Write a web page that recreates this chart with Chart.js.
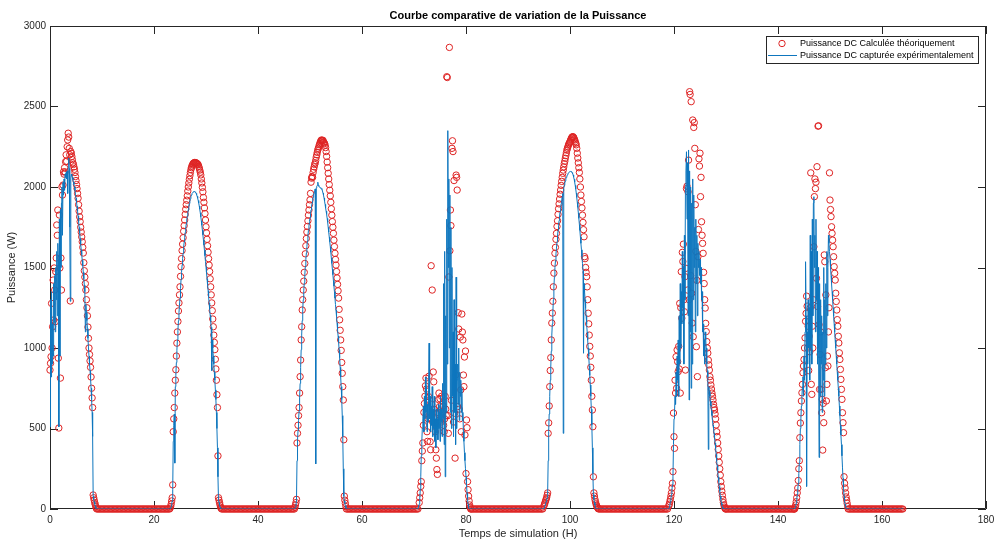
<!DOCTYPE html>
<html lang="fr">
<head>
<meta charset="UTF-8">
<title>Courbe comparative de variation de la Puissance</title>
<script src="https://cdn.jsdelivr.net/npm/chart.js"></script>
<style>
  html, body { margin: 0; padding: 0; background: #fff; }
  canvas { display: block; }
</style>
</head>
<body>
<canvas id="graphePuissance" width="995" height="542"></canvas>
<script>
// Temps de simulation (H) et puissances (W), jour par jour
const titre = 'Courbe comparative de variation de la Puissance';
const graduationsX = [0, 20, 40, 60, 80, 100, 120, 140, 160, 180];
const graduationsY = [0, 500, 1000, 1500, 2000, 2500, 3000];

// la nuit, les deux puissances sont nulles
const puissanceNuit = [
  0,0,0,0,0,0,0,0,0,0, 0,0,0,0,0,0,0,0,0,0, 0,0,0,0,0,0,0,0,0,0,
  0,0,0,0,0,0,0,0,0,0, 0,0,0,0,0,0,0,0,0,0, 0,0,0,0,0];

// --- Jour 1 ---
const tempsJour1 = [
  0,0.1,0.2,0.3,0.4,0.5,0.6,0.7,0.8,0.9,
  1,1.1,1.2,1.3,1.4,1.5,1.6,1.7,1.8,1.9,
  2,2.1,2.2,2.3,2.4,2.5,2.6,2.7,2.8,2.9,
  3,3.1,3.2,3.3,3.4,3.5,3.6,3.7,3.8,3.9,
  4,4.1,4.2,4.3,4.4,4.5,4.6,4.7,4.8,4.9,
  5,5.1,5.2,5.3,5.4,5.5,5.6,5.7,5.8,5.9,
  6,6.1,6.2,6.3,6.4,6.5,6.6,6.7,6.8,6.9,
  7,7.1,7.2,7.3,7.4,7.5,7.6,7.7,7.8,7.9,
  8,8.1,8.2,8.3,8.4,8.5,8.6,8.7,8.8,8.9,
  9];
const theoJour1 = [
  863,905,946,1277,1000,1132,1422,1174,1497,1360,
  1163,1474,1559,1764,1700,1857,937,503,1826,1497,
  813,1559,1360,2001,1950,2012,2094,2080,2120,2094,
  2157,2200,2160,2250,2292,2334,2310,2240,2200,1292,
  2220,2209,2190,2170,2150,2140,2125,2110,2090,2065,
  2040,2015,1990,1960,1930,1890,1850,1815,1785,1750,
  1720,1690,1660,1625,1590,1530,1480,1440,1400,1360,
  1300,1250,1200,1130,1060,1000,960,920,880,820,
  750,690,630,87,70,55,40,28,15,5,
  0];
const mesJour1 = [
  510,1300,820,1350,900,1150,950,1400,1160,1450,
  1100,1500,1300,1600,1200,1650,1550,510,1800,950,
  1860,1500,1900,2000,1700,2030,1950,2050,1980,2080,
  2060,2090,2050,2100,1960,2120,2180,2116,1750,1290,
  2050,2080,2070,2060,2045,2030,2015,2000,1980,1955,
  1930,1905,1880,1850,1820,1785,1750,1715,1680,1645,
  1610,1580,1545,1510,1470,1430,1390,1350,1100,1270,
  1220,1170,1120,1060,1000,950,900,860,810,750,
  680,600,450,80,60,45,30,18,8,0,
  0];
const tempsNuit1 = [
  9.25,9.5,9.75,10,10.25,10.5,10.75,11,11.25,11.5,11.75,12,12.25,12.5,12.75,13,
  13.25,13.5,13.75,14,14.25,14.5,14.75,15,15.25,15.5,15.75,16,16.25,16.5,16.75,17,
  17.25,17.5,17.75,18,18.25,18.5,18.75,19,19.25,19.5,19.75,20,20.25,20.5,20.75,21,
  21.25,21.5,21.75,22,22.25,22.5,22.75];

// --- Jour 2 ---
const tempsJour2 = [
  23,23.1,23.2,23.3,23.4,23.5,23.6,23.7,23.8,23.9,
  24,24.1,24.2,24.3,24.4,24.5,24.6,24.7,24.8,24.9,
  25,25.1,25.2,25.3,25.4,25.5,25.6,25.7,25.8,25.9,
  26,26.1,26.2,26.3,26.4,26.5,26.6,26.7,26.8,26.9,
  27,27.1,27.2,27.3,27.4,27.5,27.6,27.7,27.8,27.9,
  28,28.1,28.2,28.3,28.4,28.5,28.6,28.7,28.8,28.9,
  29,29.1,29.2,29.3,29.4,29.5,29.6,29.7,29.8,29.9,
  30,30.1,30.2,30.3,30.4,30.5,30.6,30.7,30.8,30.9,
  31,31.1,31.2,31.3,31.4,31.5,31.6,31.7,31.8,31.9,
  32,32.1,32.2,32.3,32.4,32.5,32.6,32.7,32.8,32.9,
  33];
const theoJour2 = [
  0,5,15,30,50,70,150,480,560,630,
  720,800,865,950,1030,1100,1165,1230,1280,1330,
  1380,1445,1505,1555,1605,1645,1685,1725,1760,1795,
  1830,1862,1890,1918,1945,1975,2000,2025,2048,2070,
  2090,2108,2120,2130,2138,2144,2148,2150,2152,2152,
  2150,2150,2148,2145,2142,2138,2128,2118,2105,2092,
  2075,2050,2025,1998,1970,1935,1905,1870,1835,1795,
  1753,1715,1675,1635,1595,1555,1515,1475,1430,1380,
  1330,1280,1232,1180,1132,1080,1035,990,930,870,
  800,710,630,330,70,55,40,25,12,5,
  0];
const mesJour2 = [
  0,0,5,15,30,50,120,420,520,590,
  285,760,830,910,985,1050,1110,1170,1220,1265,
  1310,1370,1425,1470,1515,1555,1590,1625,1658,1688,
  1718,1745,1770,1795,1818,1840,1860,1880,1898,1913,
  1927,1940,1950,1958,1964,1968,1971,1972,1972,1970,
  1966,1960,1952,1942,1930,1916,1900,1882,1862,1840,
  1815,1790,1762,1733,1703,1672,1640,1607,1573,1538,
  1502,1466,1430,1393,1356,1318,1280,1242,1204,1166,
  1128,860,1050,1000,950,900,850,800,740,680,
  600,500,380,200,60,40,25,12,5,0,
  0];
const tempsNuit2 = [
  33.25,33.5,33.75,34,34.25,34.5,34.75,35,35.25,35.5,35.75,36,36.25,36.5,36.75,37,
  37.25,37.5,37.75,38,38.25,38.5,38.75,39,39.25,39.5,39.75,40,40.25,40.5,40.75,41,
  41.25,41.5,41.75,42,42.25,42.5,42.75,43,43.25,43.5,43.75,44,44.25,44.5,44.75,45,
  45.25,45.5,45.75,46,46.25,46.5,46.75];

// --- Jour 3 ---
const tempsJour3 = [
  47,47.1,47.2,47.3,47.4,47.5,47.6,47.7,47.8,47.9,
  48,48.1,48.2,48.3,48.4,48.5,48.6,48.7,48.8,48.9,
  49,49.1,49.2,49.3,49.4,49.5,49.6,49.7,49.8,49.9,
  50,50.1,50.2,50.3,50.4,50.5,50.6,50.7,50.8,50.9,
  51,51.1,51.2,51.3,51.4,51.5,51.6,51.7,51.8,51.9,
  52,52.1,52.2,52.3,52.4,52.5,52.6,52.7,52.8,52.9,
  53,53.1,53.2,53.3,53.4,53.5,53.6,53.7,53.8,53.9,
  54,54.1,54.2,54.3,54.4,54.5,54.6,54.7,54.8,54.9,
  55,55.1,55.2,55.3,55.4,55.5,55.6,55.7,55.8,55.9,
  56,56.1,56.2,56.3,56.4,56.5,56.6,56.7,56.8,56.9,
  57];
const theoJour3 = [
  0,10,25,40,60,410,470,520,580,630,
  720,822,925,1050,1132,1236,1300,1360,1415,1470,
  1525,1585,1635,1680,1720,1755,1790,1825,1857,1890,
  1920,1960,2030,2055,2065,2060,2090,2110,2125,2140,
  2150,2165,2185,2200,2215,2230,2240,2250,2262,2270,
  2280,2288,2292,2290,2285,2290,2280,2275,2270,2260,
  2245,2220,2190,2155,2120,2085,2050,2015,1980,1945,
  1905,1865,1825,1785,1750,1712,1670,1630,1588,1550,
  1515,1475,1435,1395,1355,1310,1240,1175,1110,1050,
  985,910,843,760,677,430,80,55,35,15,
  0];
const mesJour3 = [
  0,0,10,25,50,300,430,490,550,610,
  690,780,880,990,1080,1170,1240,1300,1355,1405,
  1455,1505,1550,1590,1630,1665,1700,1730,1760,1785,
  1810,1835,1858,1880,1900,1918,1935,1950,1965,1978,
  1988,280,1995,2005,2010,2030,2010,2005,2000,1998,
  1995,1992,1990,1985,1975,1962,1948,1932,1912,1892,
  1870,1850,1830,1805,1780,1750,1720,1690,1660,1630,
  1595,1560,1525,1490,1455,1420,1385,1350,1310,1270,
  1235,1195,1155,1115,1075,1035,990,940,880,820,
  760,680,580,450,250,80,50,35,20,8,
  0];
const tempsNuit3 = [
  57.25,57.5,57.75,58,58.25,58.5,58.75,59,59.25,59.5,59.75,60,60.25,60.5,60.75,61,
  61.25,61.5,61.75,62,62.25,62.5,62.75,63,63.25,63.5,63.75,64,64.25,64.5,64.75,65,
  65.25,65.5,65.75,66,66.25,66.5,66.75,67,67.25,67.5,67.75,68,68.25,68.5,68.75,69,
  69.25,69.5,69.75,70,70.25,70.5,70.75];

// --- Jour 4 ---
const tempsJour4 = [
  71,71.1,71.2,71.3,71.4,71.5,71.6,71.7,71.8,71.9,
  72,72.1,72.2,72.3,72.4,72.5,72.6,72.7,72.8,72.9,
  73,73.1,73.2,73.3,73.4,73.5,73.6,73.7,73.8,73.9,
  74,74.1,74.2,74.3,74.4,74.5,74.6,74.7,74.8,74.9,
  75,75.1,75.2,75.3,75.4,75.5,75.6,75.7,75.8,75.9,
  76,76.1,76.2,76.3,76.4,76.5,76.6,76.7,76.8,76.9,
  77,77.1,77.2,77.3,77.4,77.5,77.6,77.7,77.8,77.9,
  78,78.1,78.2,78.3,78.4,78.5,78.6,78.7,78.8,78.9,
  79,79.1,79.2,79.3,79.4,79.5,79.6,79.7,79.8,79.9,
  80,80.1,80.2,80.3,80.4,80.5,80.6,80.7,80.8,80.9,
  81];
const theoJour4 = [
  40,70,100,140,170,300,360,410,520,600,
  655,700,765,813,745,480,420,560,698,825,
  570,418,368,1511,650,1360,540,851,790,620,
  560,480,368,316,245,215,600,680,720,636,
  685,615,540,700,570,600,640,520,480,560,
  700,620,580,2685,2680,580,470,1441,2867,1604,
  1857,1760,675,2240,2287,2220,540,2040,595,316,
  832,2074,2060,1981,636,1219,1118,620,560,1068,
  740,480,1211,1099,1050,832,760,944,460,981,
  220,553,505,170,120,80,50,25,10,0,
  0];
const mesJour4 = [
  30,60,120,200,330,420,500,560,640,480,
  700,560,820,600,760,480,650,540,720,1030,
  560,700,480,640,520,760,450,620,500,700,
  420,560,380,620,470,560,430,650,500,600,
  420,700,540,620,450,780,560,1400,400,1600,
  200,1200,600,1800,900,2350,1500,2050,1000,1950,
  600,1750,500,1500,700,1100,450,1300,600,900,
  400,1440,500,800,900,650,1000,550,850,700,
  800,600,750,550,600,480,420,350,300,250,
  200,150,100,60,30,10,0,0,0,0,
  0];
const tempsNuit4 = [
  81.25,81.5,81.75,82,82.25,82.5,82.75,83,83.25,83.5,83.75,84,84.25,84.5,84.75,85,
  85.25,85.5,85.75,86,86.25,86.5,86.75,87,87.25,87.5,87.75,88,88.25,88.5,88.75,89,
  89.25,89.5,89.75,90,90.25,90.5,90.75,91,91.25,91.5,91.75,92,92.25,92.5,92.75,93,
  93.25,93.5,93.75,94,94.25,94.5,94.75];

// --- Jour 5 ---
const tempsJour5 = [
  95,95.1,95.2,95.3,95.4,95.5,95.6,95.7,95.8,95.9,
  96,96.1,96.2,96.3,96.4,96.5,96.6,96.7,96.8,96.9,
  97,97.1,97.2,97.3,97.4,97.5,97.6,97.7,97.8,97.9,
  98,98.1,98.2,98.3,98.4,98.5,98.6,98.7,98.8,98.9,
  99,99.1,99.2,99.3,99.4,99.5,99.6,99.7,99.8,99.9,
  100,100.1,100.2,100.3,100.4,100.5,100.6,100.7,100.8,100.9,
  101,101.1,101.2,101.3,101.4,101.5,101.6,101.7,101.8,101.9,
  102,102.1,102.2,102.3,102.4,102.5,102.6,102.7,102.8,102.9,
  103,103.1,103.2,103.3,103.4,103.5,103.6,103.7,103.8,103.9,
  104,104.1,104.2,104.3,104.4,104.5,104.6,104.7,104.8,104.9,
  105,105.1,105.2,105.3,105.4,105.5];
const theoJour5 = [
  20,30,40,50,60,70,85,100,470,535,
  640,760,860,940,1050,1155,1217,1290,1380,1465,
  1527,1588,1625,1675,1712,1755,1790,1830,1865,1895,
  1925,1955,1981,2010,2035,2060,2085,2105,2125,2145,
  2160,2178,2195,2212,2229,2240,2250,2260,2268,2275,
  2281,2290,2298,2305,2310,2312,2312,2308,2300,2292,
  2282,2272,2262,2240,2210,2180,2150,2120,2090,2050,
  2000,1950,1910,1870,1825,1780,1735,1691,1567,1555,
  1500,1470,1443,1380,1300,1216,1150,1080,1010,950,
  880,800,700,615,511,200,100,80,60,45,
  32,22,14,8,3,0];
const mesJour5 = [
  5,15,25,35,45,55,70,90,300,480,
  590,700,800,880,980,1080,1150,1220,1300,1380,
  1440,1500,1540,1585,1620,1660,1695,1730,1762,1792,
  1820,1848,1873,1897,1920,1940,1960,470,1995,2010,
  2025,2038,2050,2060,2068,2076,2082,2087,2091,2094,
  2096,2097,2096,2093,2089,2083,2075,2062,2048,2030,
  2010,1988,1963,1935,1905,1873,1840,1805,1768,1730,
  1690,1650,1610,1568,1525,1480,968,1400,1350,1300,
  1250,1200,1150,1100,1050,1000,950,890,830,770,
  700,620,520,380,220,90,60,40,25,10,
  0,0,0,0,0,0];
const tempsNuit5 = [
  105.75,106,106.25,106.5,106.75,107,107.25,107.5,107.75,108,108.25,108.5,108.75,
  109,109.25,109.5,109.75,110,110.25,110.5,110.75,111,111.25,111.5,111.75,112,
  112.25,112.5,112.75,113,113.25,113.5,113.75,114,114.25,114.5,114.75,115,115.25,
  115.5,115.75,116,116.25,116.5,116.75,117,117.25,117.5,117.75,118,118.25,118.5,118.75];

// --- Jour 6 ---
const tempsJour6 = [
  119,119.1,119.2,119.3,119.4,119.5,119.6,119.7,119.8,119.9,
  120,120.1,120.2,120.3,120.4,120.5,120.6,120.7,120.8,120.9,
  121,121.1,121.2,121.3,121.4,121.5,121.6,121.7,121.8,121.9,
  122,122.1,122.2,122.3,122.4,122.5,122.6,122.7,122.8,122.9,
  123,123.1,123.2,123.3,123.4,123.5,123.6,123.7,123.8,123.9,
  124,124.1,124.2,124.3,124.4,124.5,124.6,124.7,124.8,124.9,
  125,125.1,125.2,125.3,125.4,125.5,125.6,125.7,125.8,125.9,
  126,126.1,126.2,126.3,126.4,126.5,126.6,126.7,126.8,126.9,
  127,127.1,127.2,127.3,127.4,127.5,127.6,127.7,127.8,127.9,
  128,128.1,128.2,128.3,128.4,128.5,128.6,128.7,128.8,128.9,
  129,129.1,129.2,129.3,129.4,129.5,129.6,129.7,129.8,129.9,
  130];
const theoJour6 = [
  20,30,45,60,80,100,130,160,232,596,
  449,377,800,720,946,750,988,915,853,1010,
  870,1277,720,1250,1474,1185,1594,1537,1645,1300,
  1225,1443,863,1495,1990,2005,1360,1970,2167,1300,
  2592,2575,1450,2530,1340,1155,2416,1070,2370,2400,
  2240,1890,1600,1008,1420,822,1567,1736,2175,2130,
  2210,1940,2060,1784,1700,1650,1588,1470,1400,1300,
  1248,1153,1102,1040,1000,968,925,895,863,822,
  800,770,745,720,700,677,650,630,615,590,
  560,522,480,450,410,370,330,290,250,210,
  170,140,110,85,60,40,25,12,5,0,
  0];
const mesJour6 = [
  0,10,25,45,65,90,120,150,200,400,
  560,600,700,650,850,700,950,800,1050,700,
  1200,900,1400,1000,1350,1150,1600,1250,1500,900,
  1700,1300,2000,2100,2219,1800,2150,1200,2230,677,
  2100,1100,2000,750,1900,900,2050,1300,1950,1500,
  1750,1100,1800,1400,1700,1200,1650,1500,1600,1450,
  1550,1400,1500,1300,1350,1100,1150,950,1050,900,
  1100,1050,1000,900,860,820,370,760,730,700,
  670,640,610,580,550,520,500,470,440,410,
  380,340,300,270,240,200,170,140,110,80,
  60,40,25,10,0,0,0,0,0,0,
  0];
const tempsNuit6 = [
  130.25,130.5,130.75,131,131.25,131.5,131.75,132,132.25,132.5,132.75,133,133.25,
  133.5,133.75,134,134.25,134.5,134.75,135,135.25,135.5,135.75,136,136.25,136.5,
  136.75,137,137.25,137.5,137.75,138,138.25,138.5,138.75,139,139.25,139.5,139.75,
  140,140.25,140.5,140.75,141,141.25,141.5,141.75,142,142.25,142.5,142.75];

// --- Jour 7 ---
const tempsJour7 = [
  143,143.1,143.2,143.3,143.4,143.5,143.6,143.7,143.8,143.9,
  144,144.1,144.2,144.3,144.4,144.5,144.6,144.7,144.8,144.9,
  145,145.1,145.2,145.3,145.4,145.5,145.6,145.7,145.8,145.9,
  146,146.1,146.2,146.3,146.4,146.5,146.6,146.7,146.8,146.9,
  147,147.1,147.2,147.3,147.4,147.5,147.6,147.7,147.8,147.9,
  148,148.1,148.2,148.3,148.4,148.5,148.6,148.7,148.8,148.9,
  149,149.1,149.2,149.3,149.4,149.5,149.6,149.7,149.8,149.9,
  150,150.1,150.2,150.3,150.4,150.5,150.6,150.7,150.8,150.9,
  151,151.1,151.2,151.3,151.4,151.5,151.6,151.7,151.8,151.9,
  152,152.1,152.2,152.3,152.4,152.5,152.6,152.7,152.8,152.9,
  153,153.1,153.2,153.3,153.4,153.5];
const theoJour7 = [
  0,0,0,10,25,45,70,100,130,177,
  250,300,443,534,598,671,722,774,846,888,
  929,1000,1063,1166,1215,1322,1260,1000,1135,860,
  1073,976,1250,2088,774,712,1135,1000,1300,1629,
  1940,2050,1990,2030,1433,2126,1258,2378,2380,1145,
  743,960,1100,743,598,681,366,656,536,1578,
  1536,878,1330,671,774,950,888,1100,1250,2088,
  1919,1860,1816,1753,1712,1670,1629,1567,1505,1464,
  1422,1340,1289,1236,1176,1135,1073,1031,970,929,
  867,805,743,681,598,536,474,200,160,130,
  100,75,55,35,15,0];
const mesJour7 = [
  0,0,0,5,15,35,60,90,120,160,
  220,290,400,500,560,640,700,760,820,700,
  950,800,1100,1536,1200,140,1100,900,1300,1000,
  1250,800,1700,1000,1600,900,1800,1200,1900,1940,
  1500,1700,1100,1800,1300,1600,900,1500,1000,320,
  1400,700,1300,900,1200,600,1100,800,1500,700,
  1300,900,1400,1000,1600,1200,1500,1700,1650,1600,
  1550,1500,1450,1400,1350,1300,1250,1200,1150,1100,
  1050,1000,950,900,850,800,750,700,640,580,
  520,460,400,330,260,190,130,80,50,30,
  15,5,0,0,0,0];
const tempsNuit7 = [
  153.75,154,154.25,154.5,154.75,155,155.25,155.5,155.75,156,156.25,156.5,156.75,
  157,157.25,157.5,157.75,158,158.25,158.5,158.75,159,159.25,159.5,159.75,160,
  160.25,160.5,160.75,161,161.25,161.5,161.75,162,162.25,162.5,162.75,163,163.25,
  163.5,163.75,164];

// assemblage chronologique : [temps, théorique, mesurée]
const segments = [
  [tempsJour1, theoJour1, mesJour1], [tempsNuit1, puissanceNuit, puissanceNuit],
  [tempsJour2, theoJour2, mesJour2], [tempsNuit2, puissanceNuit, puissanceNuit],
  [tempsJour3, theoJour3, mesJour3], [tempsNuit3, puissanceNuit, puissanceNuit],
  [tempsJour4, theoJour4, mesJour4], [tempsNuit4, puissanceNuit, puissanceNuit],
  [tempsJour5, theoJour5, mesJour5], [tempsNuit5, puissanceNuit, puissanceNuit],
  [tempsJour6, theoJour6, mesJour6], [tempsNuit6, puissanceNuit, puissanceNuit],
  [tempsJour7, theoJour7, mesJour7], [tempsNuit7, puissanceNuit, puissanceNuit]
];
const pointsTheo = [];
const pointsMes = [];
segments.forEach(([t, th, me]) => {
  t.forEach((h, i) => {
    pointsTheo.push({ x: h, y: th[i] });
    pointsMes.push({ x: h, y: me[i] });
  });
});

const rouge = 'rgb(222, 36, 36)';
const bleu = 'rgb(14, 118, 190)';
const gris = '#262626';
const police = '"Liberation Sans", Arial, Helvetica, sans-serif';
Chart.defaults.font.family = police;

// cadre façon MATLAB : boîte + graduations vers l'intérieur sur les 4 côtés
const cadreMatlab = {
  id: 'cadreMatlab',
  beforeDatasetsDraw(chart) {
    const { ctx, chartArea: a, scales: { x, y } } = chart;
    const L = 8;
    ctx.save();
    ctx.strokeStyle = gris;
    ctx.lineWidth = 1;
    ctx.beginPath();
    ctx.rect(a.left + 0.5, a.top + 0.5, a.right - a.left - 1, a.bottom - a.top - 1);
    graduationsX.forEach(v => {
      const px = Math.round(x.getPixelForValue(v)) + 0.5;
      ctx.moveTo(px, a.bottom); ctx.lineTo(px, a.bottom - L);
      ctx.moveTo(px, a.top); ctx.lineTo(px, a.top + L);
    });
    graduationsY.forEach(v => {
      const py = Math.round(y.getPixelForValue(v)) + 0.5;
      ctx.moveTo(a.left, py); ctx.lineTo(a.left + L, py);
      ctx.moveTo(a.right, py); ctx.lineTo(a.right - L, py);
    });
    ctx.stroke();
    ctx.restore();
  }
};

const titreEtLegende = {
  id: 'titreEtLegende',
  afterDraw(chart) {
    const { ctx, chartArea: a } = chart;
    const ds = chart.data.datasets;
    ctx.save();
    // titre centré sur la zone de tracé
    ctx.font = 'bold 11px ' + police;
    ctx.fillStyle = '#000';
    ctx.textAlign = 'center';
    ctx.textBaseline = 'middle';
    ctx.fillText(titre, (a.left + a.right) / 2, a.top - 10);

    // légende encadrée en haut à droite
    const w = 212, h = 27;
    const left = a.right - 8 - w, top = a.top + 10;
    ctx.fillStyle = '#fff';
    ctx.fillRect(left, top, w, h);
    ctx.strokeStyle = gris;
    ctx.lineWidth = 1;
    ctx.strokeRect(left + 0.5, top + 0.5, w, h);
    const y1 = top + 7.5, y2 = top + 19.5;
    ctx.beginPath();
    ctx.arc(left + 16, y1, 3.2, 0, Math.PI * 2);
    ctx.strokeStyle = ds[0].pointBorderColor;
    ctx.stroke();
    ctx.beginPath();
    ctx.moveTo(left + 2, y2);
    ctx.lineTo(left + 31, y2);
    ctx.strokeStyle = ds[1].borderColor;
    ctx.stroke();
    ctx.font = '9px ' + police;
    ctx.fillStyle = '#000';
    ctx.textAlign = 'left';
    ctx.fillText(ds[0].label, left + 34, y1 + 0.5);
    ctx.fillText(ds[1].label, left + 34, y2);
    ctx.restore();
  }
};

new Chart(document.getElementById('graphePuissance'), {
  type: 'line',
  data: {
    datasets: [
      {
        label: 'Puissance DC Calculée théoriquement',
        data: pointsTheo,
        showLine: false,
        pointStyle: 'circle',
        pointRadius: 3.2,
        pointBorderWidth: 1,
        pointBorderColor: rouge,
        pointBackgroundColor: 'rgba(0,0,0,0)',
        borderColor: rouge,
        clip: false,
        order: 2
      },
      {
        label: 'Puissance DC capturée expérimentalement',
        data: pointsMes,
        borderColor: bleu,
        borderWidth: 1,
        pointRadius: 0,
        tension: 0,
        fill: false,
        order: 1
      }
    ]
  },
  options: {
    responsive: false,
    animation: false,
    events: [],
    layout: { padding: { top: 26, right: 9, bottom: 0, left: 0 } },
    plugins: {
      legend: { display: false },
      title: { display: false },
      tooltip: { enabled: false }
    },
    scales: {
      x: {
        type: 'linear',
        min: 0,
        max: 180,
        afterFit: s => { s.height = 33; s.paddingLeft = 0; s.paddingRight = 0; },
        afterBuildTicks: s => { s.ticks = graduationsX.map(v => ({ value: v })); },
        grid: { display: false, drawTicks: false },
        border: { display: false },
        ticks: { padding: 5, color: gris, font: { size: 10 }, maxRotation: 0, callback: v => String(v) },
        title: { display: true, text: 'Temps de simulation (H)', color: gris, font: { size: 11 }, padding: { top: 0, bottom: 1 } }
      },
      y: {
        type: 'linear',
        min: 0,
        max: 3000,
        afterFit: s => { s.width = 50; },
        afterBuildTicks: s => { s.ticks = graduationsY.map(v => ({ value: v })); },
        grid: { display: false, drawTicks: false },
        border: { display: false },
        ticks: { padding: 4, color: gris, font: { size: 10 }, callback: v => String(v) },
        title: { display: true, text: 'Puissance (W)', color: gris, font: { size: 11 }, padding: { top: 5, bottom: 0 } }
      }
    }
  },
  plugins: [cadreMatlab, titreEtLegende]
});
</script>
</body>
</html>
